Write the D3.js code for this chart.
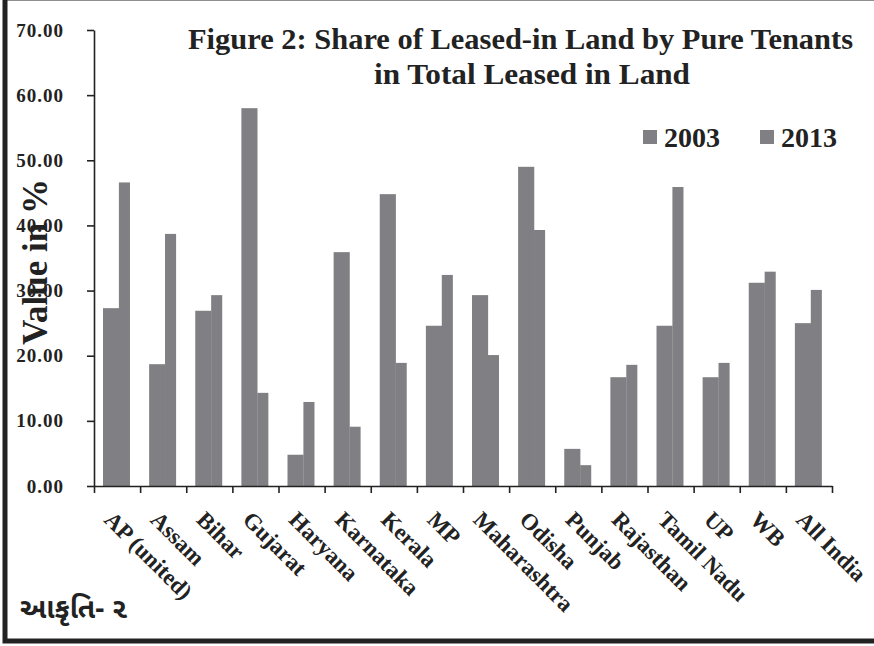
<!DOCTYPE html>
<html>
<head>
<meta charset="utf-8">
<script src="https://cdn.jsdelivr.net/npm/d3@7"></script>
<style>
  body { margin: 0; background: #fff; }
  svg text { font-family: "Liberation Serif", "Times New Roman", serif; font-weight: bold; fill: #222; }
</style>
</head>
<body>
<div id="chart"></div>
<script>
// data
var states = ['AP (united)', 'Assam', 'Bihar', 'Gujarat', 'Haryana', 'Karnataka', 'Kerala', 'MP',
  'Maharashtra', 'Odisha', 'Punjab', 'Rajasthan', 'Tamil Nadu', 'UP', 'WB', 'All India'];
var y2003 = [27.3, 18.7, 26.9, 58.0, 4.8, 35.9, 44.8, 24.6, 29.3, 49.0, 5.7, 16.7, 24.6, 16.7, 31.2, 25.0];
var y2013 = [46.6, 38.7, 29.3, 14.3, 12.9, 9.1, 18.9, 32.4, 20.1, 39.3, 3.2, 18.6, 45.9, 18.9, 32.9, 30.1];
var years = ['2003', '2013'];
var yTicks = [0, 10, 20, 30, 40, 50, 60, 70];

var W = 874, H = 646, barColor = '#808084';

var svg = d3.select('#chart').append('svg')
  .attr('width', W).attr('height', H);

// outer frame
svg.append('rect')
  .attr('x', 5).attr('y', -2).attr('width', W + 10).attr('height', 643)
  .attr('fill', 'none').attr('stroke', '#222').attr('stroke-width', 5);

var x = d3.scaleBand().domain(states).range([94, 832]).padding(0);
var xi = d3.scaleLinear().domain([0, states.length]).range([94, 832]);
var y = d3.scaleLinear().domain([0, 70]).range([486, 30]);
var bw = x.bandwidth();

// bars
var rows = states.map(function(s, i){ return {s: s, a: y2003[i], b: y2013[i]}; });
var g = svg.append('g');
g.selectAll('rect.b13').data(rows).enter().append('rect')
  .attr('x', function(d){ return x(d.s) + bw * 0.54; })
  .attr('width', bw * 0.24)
  .attr('y', function(d){ return y(d.b); })
  .attr('height', function(d){ return y(0) - y(d.b); })
  .attr('fill', barColor);
g.selectAll('rect.b03').data(rows).enter().append('rect')
  .attr('x', function(d){ return x(d.s) + bw * 0.195; })
  .attr('width', bw * 0.35)
  .attr('y', function(d){ return y(d.a); })
  .attr('height', function(d){ return y(0) - y(d.a); })
  .attr('fill', barColor);

// y axis
var ya = svg.append('g').attr('transform', 'translate(94,0)')
  .call(d3.axisLeft(y).tickValues(yTicks).tickFormat(d3.format('.2f')).tickSize(7).tickSizeOuter(0).tickPadding(23));
ya.select('.domain').attr('stroke', '#222').attr('stroke-width', 1.6);
ya.selectAll('.tick line').attr('stroke', '#222').attr('stroke-width', 1.6);
ya.selectAll('.tick text').style('font-size', '19px').style('letter-spacing', '1px')
  .attr('fill', '#222').attr('font-family', null);

// x axis, ticks between categories
var xa = svg.append('g').attr('transform', 'translate(0,486)')
  .call(d3.axisBottom(xi).tickValues(d3.range(states.length + 1)).tickFormat('').tickSize(7).tickSizeOuter(0));
xa.select('.domain').attr('stroke', '#222').attr('stroke-width', 1.6);
xa.selectAll('.tick line').attr('stroke', '#222').attr('stroke-width', 1.6);

svg.append('g').selectAll('text').data(states).enter().append('text')
  .attr('transform', function(d){ return 'translate(' + (x(d) + bw / 2 - 14) + ',521) rotate(45)'; })
  .style('font-size', '23px')
  .text(function(d){ return d; });

// y title
svg.append('text')
  .attr('transform', 'translate(47,262) rotate(-90)')
  .attr('text-anchor', 'middle')
  .style('font-size', '35px')
  .text('Value in %');

// title
svg.append('text').attr('x', 188).attr('y', 49)
  .attr('textLength', 665).attr('lengthAdjust', 'spacingAndGlyphs')
  .style('font-size', '29px')
  .text('Figure 2: Share of Leased-in Land by Pure Tenants');
svg.append('text').attr('x', 374).attr('y', 84)
  .attr('textLength', 316).attr('lengthAdjust', 'spacingAndGlyphs')
  .style('font-size', '29px')
  .text('in Total Leased in Land');

// legend
var lg = svg.append('g').selectAll('g').data(years).enter().append('g')
  .attr('transform', function(d, i){ return 'translate(' + (643 + i * 117) + ',130)'; });
lg.append('rect').attr('width', 14).attr('height', 14).attr('fill', barColor);
lg.append('text').attr('x', 21).attr('y', 17)
  .style('font-size', '28px')
  .text(function(d){ return d; });

// gujarati caption
svg.append('text').attr('x', 20).attr('y', 618)
  .style('font-family', '"Noto Sans Gujarati", "Noto Sans", sans-serif')
  .style('font-size', '28px').style('font-weight', 'bold')
  .text('આકૃતિ- ૨');
</script>
</body>
</html>
